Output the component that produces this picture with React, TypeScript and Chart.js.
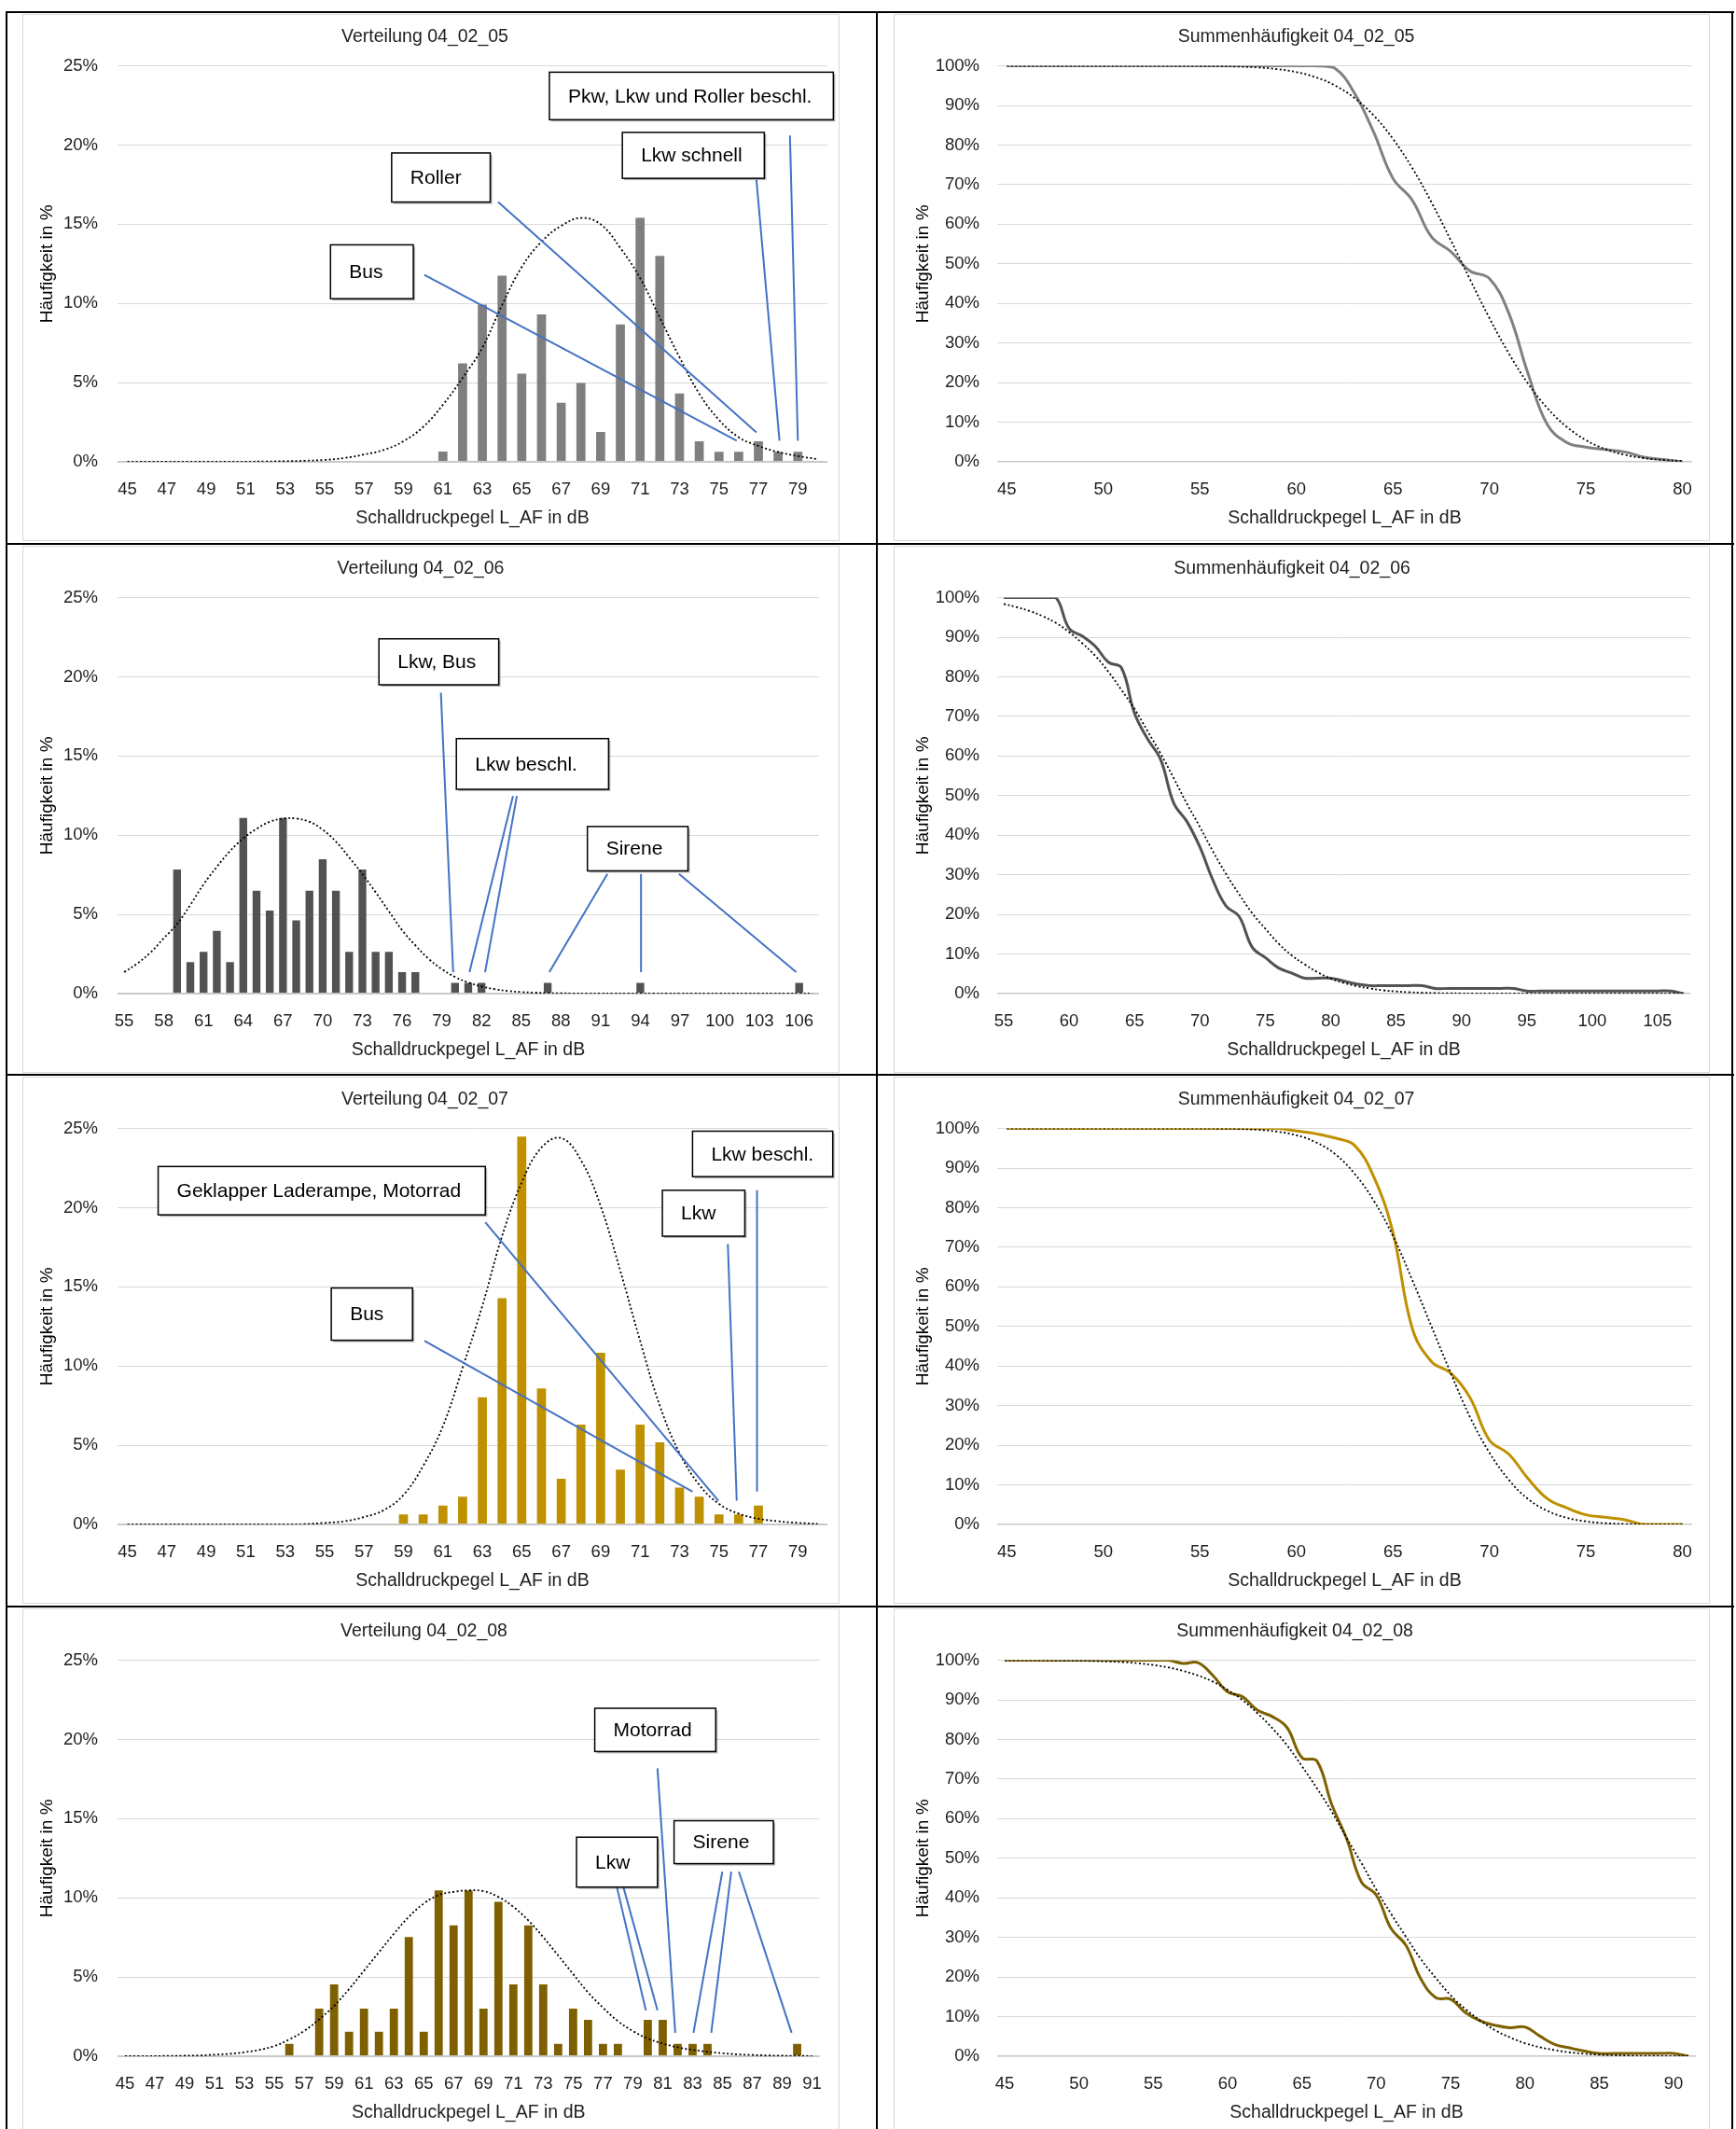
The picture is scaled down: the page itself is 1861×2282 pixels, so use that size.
import React, { useEffect, useRef } from "react";
import { Chart, registerables } from "chart.js";
Chart.register(...registerables);

const FONT = "'Liberation Sans', Arial, sans-serif";

// ---------- categories ----------
const cats45to80 = [45,46,47,48,49,50,51,52,53,54,55,56,57,58,59,60,61,62,63,64,65,66,67,68,69,70,71,72,73,74,75,76,77,78,79,80];
const cats55to107 = [55,56,57,58,59,60,61,62,63,64,65,66,67,68,69,70,71,72,73,74,75,76,77,78,79,80,81,82,83,84,85,86,87,88,89,90,91,92,93,94,95,96,97,98,99,100,101,102,103,104,105,106,107];
const cats45to91 = [45,46,47,48,49,50,51,52,53,54,55,56,57,58,59,60,61,62,63,64,65,66,67,68,69,70,71,72,73,74,75,76,77,78,79,80,81,82,83,84,85,86,87,88,89,90,91];

// ---------- 04_02_05 ----------
const bars05 = [0,0,0,0,0,0,0,0,0,0,0,0,0,0,0,0,0.65,6.22,9.93,11.75,5.57,9.3,3.73,4.98,1.88,8.67,15.4,13.0,4.32,1.29,0.63,0.63,1.29,0.63,0.63,0];
const norm05 = [0,0,0,0,0,0.01,0.01,0.02,0.04,0.07,0.12,0.24,0.46,0.75,1.3,2.2,3.6,5.3,7.2,9.9,12.3,13.9,14.9,15.4,15.0,13.5,11.6,9.1,6.6,4.3,2.65,1.55,1.0,0.62,0.36,0.17];
const cum05 = [100,100,100,100,100,100,100,100,100,100,100,100,100,100,100,100,100,99.4,93.2,83.3,71.6,66.1,56.8,53.1,48.2,46.3,37.6,22.3,9.4,4.9,3.7,3.1,2.5,1.2,0.6,0];
const normCum05 = [100,100,100,100,100,100,100,100,100,100,99.97,99.92,99.81,99.6,99.18,98.42,97.13,95.05,91.92,87.49,81.59,74.22,65.54,55.96,46.02,36.32,27.43,19.77,13.57,8.85,5.48,3.22,1.79,0.94,0.47,0.22];

// ---------- 04_02_06 ----------
const bars06 = [0,0,0,0,7.83,1.99,2.63,3.96,1.99,11.09,6.5,5.24,11.09,4.62,6.5,8.48,6.5,2.63,7.83,2.63,2.63,1.35,1.35,0,0,0.68,0.68,0.68,0,0,0,0,0.68,0,0,0,0,0,0,0.68,0,0,0,0,0,0,0,0,0,0,0,0.68,0];
const norm06 = [1.35,1.9,2.6,3.5,4.4,5.6,6.9,8.0,9.0,9.8,10.4,10.85,11.05,11.05,10.85,10.35,9.6,8.6,7.55,6.4,5.2,4.0,3.05,2.2,1.55,1.05,0.7,0.45,0.28,0.17,0.1,0.06,0.03,0.02,0.01,0,0,0,0,0,0,0,0,0,0,0,0,0,0,0,0,0,0];
const cum06 = [100,100,100,100,100,92.2,90.3,87.7,83.7,82.3,70.8,64.3,59.1,48.1,43.5,37.0,28.6,22.1,19.5,11.7,9.1,6.5,5.2,3.9,3.9,3.9,3.2,2.4,2.0,2.0,2.0,2.0,2.0,1.3,1.3,1.3,1.3,1.3,1.3,1.3,0.65,0.65,0.65,0.65,0.65,0.65,0.65,0.65,0.65,0.65,0.65,0.65,0];
const normCum06 = [98.4,97.6,96.6,95.3,93.6,91.3,88.5,85.3,81.3,76.7,71.9,66.3,60.6,54.4,48.0,42.1,35.9,30.2,25.1,20.3,16.4,12.7,9.7,7.4,5.4,3.8,2.7,1.9,1.3,0.84,0.54,0.35,0.21,0.13,0.08,0.05,0.03,0.02,0.01,0,0,0,0,0,0,0,0,0,0,0,0,0,0];

// ---------- 04_02_07 ----------
const bars07 = [0,0,0,0,0,0,0,0,0,0,0,0,0,0,0.64,0.64,1.2,1.75,8.02,14.29,24.49,8.58,2.89,6.31,10.84,3.46,6.31,5.18,2.33,1.75,0.64,0.64,1.2,0,0,0];
const norm07 = [0,0,0,0,0,0,0,0,0,0.02,0.1,0.2,0.47,0.9,1.86,3.7,6.2,9.9,13.8,18.2,21.6,23.8,24.4,23.0,20.1,16.0,11.6,7.5,4.5,2.5,1.3,0.68,0.36,0.2,0.1,0.04];
const cum07 = [100,100,100,100,100,100,100,100,100,100,100,100,100,100,100,99.4,98.7,97.6,95.8,87.9,73.8,49.6,41.1,38.2,32.0,21.3,17.8,11.6,6.5,4.2,2.45,1.8,1.2,0,0,0];
const normCum07 = [100,100,100,100,100,100,100,100,100,100,99.99,99.96,99.88,99.68,99.22,98.3,96.56,93.57,88.69,81.86,72.91,61.79,50,38.21,27.09,18.14,11.31,6.43,3.44,1.7,0.78,0.32,0.12,0.04,0.01,0];

// ---------- 04_02_08 ----------
const bars08 = [0,0,0,0,0,0,0,0,0,0,0,0.78,0,3.0,4.53,1.55,3.0,1.55,3.0,7.52,1.55,10.47,8.26,10.47,3.0,9.75,4.53,8.26,4.53,0.78,3.0,2.29,0.78,0.78,0,2.29,2.29,0.78,0.78,0.78,0,0,0,0,0,0.78,0];
const norm08 = [0,0.01,0.01,0.02,0.03,0.05,0.1,0.15,0.25,0.4,0.64,1.06,1.6,2.33,3.18,4.24,5.4,6.57,7.73,8.8,9.64,10.17,10.38,10.47,10.42,10.06,9.43,8.58,7.52,6.36,5.19,4.03,3.07,2.22,1.59,1.12,0.8,0.56,0.4,0.28,0.19,0.12,0.08,0.05,0.03,0.02,0.01];
const cum08 = [100,100,100,100,100,100,100,100,100,100,100,100,99.2,99.4,96.2,92,90.8,87.4,85.8,83,75.4,74.6,63.6,55,44,40.7,32.2,28,19.5,14.8,14.4,11,8.9,7.8,7.2,7.4,5.1,3.0,2.1,1.3,0.7,0.7,0.7,0.7,0.7,0.7,0];
const normCum08 = [100,99.99,99.98,99.97,99.94,99.9,99.82,99.7,99.52,99.25,98.81,98.21,97.32,96.16,94.63,92.51,89.97,86.65,82.89,78.52,73.24,67.72,61.79,55.17,48.8,42.07,35.94,30.15,24.51,19.77,15.39,11.9,9.01,6.55,4.75,3.29,2.28,1.54,0.99,0.64,0.39,0.24,0.14,0.08,0.05,0.03,0.02];

// ---------- callouts (data coordinates: x in dB, y in %) ----------
type Box = { text: string; x1: number; x2: number; y1: number; y2: number };
type Ann = { boxes: Box[]; lines: number[][] };

const ann05: Ann = {
  lines: [[60.06, 11.8, 75.9, 1.33], [63.8, 16.4, 76.9, 1.86], [76.9, 17.8, 78.07, 1.33], [78.6, 20.6, 79.0, 1.33]],
  boxes: [
    { text: "Pkw, Lkw und Roller beschl.", x1: 66.4, x2: 80.8, y1: 24.6, y2: 21.6 },
    { text: "Lkw schnell", x1: 70.1, x2: 77.3, y1: 20.8, y2: 17.9 },
    { text: "Roller", x1: 58.4, x2: 63.4, y1: 19.5, y2: 16.4 },
    { text: "Bus", x1: 55.3, x2: 59.5, y1: 13.7, y2: 10.3 },
  ],
};
const ann06: Ann = {
  lines: [[78.93, 19.0, 79.86, 1.35], [84.38, 12.48, 81.09, 1.35], [84.67, 12.48, 82.27, 1.35], [91.51, 7.55, 87.12, 1.35], [94.05, 7.55, 94.05, 1.35], [96.92, 7.55, 105.78, 1.35]],
  boxes: [
    { text: "Lkw, Bus", x1: 74.25, x2: 83.3, y1: 22.4, y2: 19.5 },
    { text: "Lkw beschl.", x1: 80.1, x2: 91.6, y1: 16.1, y2: 12.9 },
    { text: "Sirene", x1: 90.0, x2: 97.6, y1: 10.55, y2: 7.75 },
  ],
};
const ann07: Ann = {
  lines: [[63.15, 19.08, 74.97, 1.5], [60.06, 11.6, 73.66, 2.07], [75.45, 17.7, 75.9, 1.5], [76.93, 21.1, 76.93, 2.07]],
  boxes: [
    { text: "Geklapper Laderampe, Motorrad", x1: 46.56, x2: 63.15, y1: 22.6, y2: 19.55 },
    { text: "Bus", x1: 55.34, x2: 59.46, y1: 14.93, y2: 11.63 },
    { text: "Lkw", x1: 72.13, x2: 76.31, y1: 21.1, y2: 18.2 },
    { text: "Lkw beschl.", x1: 73.66, x2: 80.77, y1: 24.83, y2: 21.96 },
  ],
};
const ann08: Ann = {
  lines: [[80.65, 18.18, 81.84, 1.48], [77.94, 10.64, 79.87, 2.9], [78.38, 10.64, 80.65, 2.9], [84.99, 11.65, 83.06, 1.48], [85.59, 11.65, 84.25, 1.48], [86.1, 11.65, 89.63, 1.48]],
  boxes: [
    { text: "Motorrad", x1: 76.45, x2: 84.55, y1: 21.97, y2: 19.24 },
    { text: "Lkw", x1: 75.23, x2: 80.65, y1: 13.83, y2: 10.68 },
    { text: "Sirene", x1: 81.76, x2: 88.41, y1: 14.87, y2: 12.16 },
  ],
};

const X_TITLE = "Schalldruckpegel L_AF in dB";
const Y_TITLE = "Häufigkeit in %";
const TEXT_COLOR = "#1e1e1e";

function calloutPlugin(ann: Ann, firstCat: number) {
  return {
    id: "callouts",
    afterDatasetsDraw(chart: any) {
      const xs = chart.scales.x;
      const ys = chart.scales.y;
      const px = (v: number) => xs.getPixelForValue(v - firstCat);
      const py = (v: number) => ys.getPixelForValue(v);
      const ctx = chart.ctx;
      ctx.save();
      ctx.strokeStyle = "#4472C4";
      ctx.lineWidth = 2;
      for (const l of ann.lines) {
        ctx.beginPath();
        ctx.moveTo(px(l[0]), py(l[1]));
        ctx.lineTo(px(l[2]), py(l[3]));
        ctx.stroke();
      }
      for (const b of ann.boxes) {
        const x1 = px(b.x1), x2 = px(b.x2), y1 = py(b.y1), y2 = py(b.y2);
        ctx.fillStyle = "rgba(0,0,0,0.3)";
        ctx.fillRect(x1 + 2, y1 + 2, x2 - x1, y2 - y1);
        ctx.fillStyle = "#ffffff";
        ctx.fillRect(x1, y1, x2 - x1, y2 - y1);
        ctx.strokeStyle = "#000000";
        ctx.lineWidth = 1.5;
        ctx.strokeRect(x1, y1, x2 - x1, y2 - y1);
        ctx.fillStyle = "#000000";
        ctx.font = `21px ${FONT}`;
        ctx.textAlign = "left";
        ctx.textBaseline = "middle";
        ctx.fillText(b.text, x1 + 20, (y1 + y2) / 2 + 1);
      }
      ctx.restore();
    },
  };
}

type BarPanel = {
  title: string; cats: number[]; bars: number[]; norm: number[]; color: string;
  barPct: number; step: number; rp: number; ann: Ann;
};
type CumPanel = {
  title: string; cats: number[]; cum: number[]; normCum: number[]; color: string; rp: number;
};

const barPanels: BarPanel[] = [
  { title: "Verteilung 04_02_05", cats: cats45to80, bars: bars05, norm: norm05, color: "#7f7f7f", barPct: 0.46, step: 2, rp: 13, ann: ann05 },
  { title: "Verteilung 04_02_06", cats: cats55to107, bars: bars06, norm: norm06, color: "#525252", barPct: 0.59, step: 3, rp: 22, ann: ann06 },
  { title: "Verteilung 04_02_07", cats: cats45to80, bars: bars07, norm: norm07, color: "#bf9000", barPct: 0.46, step: 2, rp: 13, ann: ann07 },
  { title: "Verteilung 04_02_08", cats: cats45to91, bars: bars08, norm: norm08, color: "#7f6000", barPct: 0.55, step: 2, rp: 15, ann: ann08 },
];
const cumPanels: CumPanel[] = [
  { title: "Summenhäufigkeit 04_02_05", cats: cats45to80, cum: cum05, normCum: normCum05, color: "#808080", rp: 12 },
  { title: "Summenhäufigkeit 04_02_06", cats: cats55to107, cum: cum06, normCum: normCum06, color: "#525252", rp: 21 },
  { title: "Summenhäufigkeit 04_02_07", cats: cats45to80, cum: cum07, normCum: normCum07, color: "#bf9000", rp: 12 },
  { title: "Summenhäufigkeit 04_02_08", cats: cats45to91, cum: cum08, normCum: normCum08, color: "#7f6000", rp: 15 },
];

const TICK_FONT = { family: FONT, size: 18.5 };
const TITLE_FONT = { family: FONT, size: 19.5, weight: "normal" as const };

function commonTitle(text: string) {
  return {
    display: true, text, color: TEXT_COLOR, font: TITLE_FONT,
    padding: { top: 12.6, bottom: 19.6 },
  };
}

function barConfig(p: BarPanel): any {
  return {
    type: "bar",
    data: {
      labels: p.cats.map(String),
      datasets: [
        { type: "line", data: p.norm, borderColor: "#000000", borderWidth: 1.8, borderDash: [2, 2.5], pointRadius: 0, tension: 0.4, fill: false, order: 0 },
        { type: "bar", data: p.bars, backgroundColor: p.color, categoryPercentage: 1, barPercentage: p.barPct, order: 1 },
      ],
    },
    options: {
      responsive: false, animation: false, devicePixelRatio: 1,
      layout: { padding: { left: 0, right: p.rp, top: 0, bottom: 0 } },
      plugins: { legend: { display: false }, tooltip: { enabled: false }, title: commonTitle(p.title) },
      scales: {
        x: {
          grid: { display: false, drawTicks: false }, border: { display: false },
          ticks: {
            autoSkip: false, maxRotation: 0, minRotation: 0, color: TEXT_COLOR, font: TICK_FONT, padding: 19,
            callback: (_v: any, i: number) => (i % p.step === 0 ? String(p.cats[i]) : ""),
          },
          title: { display: true, text: X_TITLE, color: TEXT_COLOR, font: TITLE_FONT, padding: { top: 0, bottom: 12.6 } },
          afterFit: (s: any) => { s.height = 85; },
        },
        y: {
          min: 0, max: 25,
          grid: { drawTicks: false, color: (c: any) => (c.tick && c.tick.value === 0 ? "#c8c8c8" : "#d9d9d9"), lineWidth: (c: any) => (c.tick && c.tick.value === 0 ? 2 : 1) },
          border: { display: false },
          ticks: { stepSize: 5, color: TEXT_COLOR, font: TICK_FONT, padding: 21, callback: (v: any) => v + "%" },
          title: { display: true, text: Y_TITLE, color: "#000000", font: { family: FONT, size: 19 }, padding: { top: 15.6, bottom: 0 } },
          afterFit: (s: any) => { s.width = 102; },
        },
      },
    },
    plugins: [calloutPlugin(p.ann, p.cats[0])],
  };
}

function cumConfig(p: CumPanel): any {
  return {
    type: "line",
    data: {
      labels: p.cats.map(String),
      datasets: [
        { data: p.normCum, borderColor: "#000000", borderWidth: 1.8, borderDash: [2, 2.5], pointRadius: 0, tension: 0.4, fill: false, order: 0 },
        { data: p.cum, borderColor: p.color, borderWidth: 3, pointRadius: 0, tension: 0.4, fill: false, order: 1 },
      ],
    },
    options: {
      responsive: false, animation: false, devicePixelRatio: 1,
      layout: { padding: { left: 0, right: p.rp, top: 0, bottom: 0 } },
      plugins: { legend: { display: false }, tooltip: { enabled: false }, title: commonTitle(p.title) },
      scales: {
        x: {
          offset: true,
          grid: { display: false, drawTicks: false }, border: { display: false },
          ticks: {
            autoSkip: false, maxRotation: 0, minRotation: 0, color: TEXT_COLOR, font: TICK_FONT, padding: 19,
            callback: (_v: any, i: number) => (i % 5 === 0 ? String(p.cats[i]) : ""),
          },
          title: { display: true, text: X_TITLE, color: TEXT_COLOR, font: TITLE_FONT, padding: { top: 0, bottom: 12.6 } },
          afterFit: (s: any) => { s.height = 85; },
        },
        y: {
          min: 0, max: 100,
          grid: { drawTicks: false, color: (c: any) => (c.tick && c.tick.value === 0 ? "#c8c8c8" : "#d9d9d9"), lineWidth: (c: any) => (c.tick && c.tick.value === 0 ? 1.5 : 1) },
          border: { display: false },
          ticks: { stepSize: 10, color: TEXT_COLOR, font: TICK_FONT, padding: 19, callback: (v: any) => v + "%" },
          title: { display: true, text: Y_TITLE, color: "#000000", font: { family: FONT, size: 19 }, padding: { top: 20.6, bottom: 0 } },
          afterFit: (s: any) => { s.width = 111; },
        },
      },
    },
  };
}

function ChartBox({ left, top, width, height, config }: { left: number; top: number; width: number; height: number; config: () => any }) {
  const ref = useRef<HTMLCanvasElement>(null);
  useEffect(() => {
    const chart = new Chart(ref.current as HTMLCanvasElement, config());
    return () => chart.destroy();
  }, []);
  return (
    <>
      <canvas ref={ref} width={width} height={height} style={{ position: "absolute", left, top, width, height }} />
      <div style={{ position: "absolute", left, top, width, height, border: "1px solid #d9d9d9", boxSizing: "border-box", pointerEvents: "none" }} />
    </>
  );
}

const ROW_TOPS = [13, 583, 1152, 1722];

export default function App() {
  const lines: React.ReactNode[] = [];
  ROW_TOPS.forEach((y, i) =>
    lines.push(<div key={"h" + i} style={{ position: "absolute", left: 7, top: y - 1, width: 1852, height: 2, background: "#000" }} />)
  );
  [7, 940, 1857].forEach((x, i) =>
    lines.push(<div key={"v" + i} style={{ position: "absolute", left: x - 1, top: 12, width: 2, height: 2282, background: "#000" }} />)
  );
  return (
    <div style={{ position: "absolute", left: 0, top: 0, width: 1861, height: 2282, overflow: "hidden", background: "#fff" }}>
      {barPanels.map((p, i) => (
        <ChartBox key={"b" + i} left={24} top={ROW_TOPS[i] + 2} width={876} height={565} config={() => barConfig(p)} />
      ))}
      {cumPanels.map((p, i) => (
        <ChartBox key={"c" + i} left={958} top={ROW_TOPS[i] + 2} width={875} height={565} config={() => cumConfig(p)} />
      ))}
      {lines}
    </div>
  );
}
